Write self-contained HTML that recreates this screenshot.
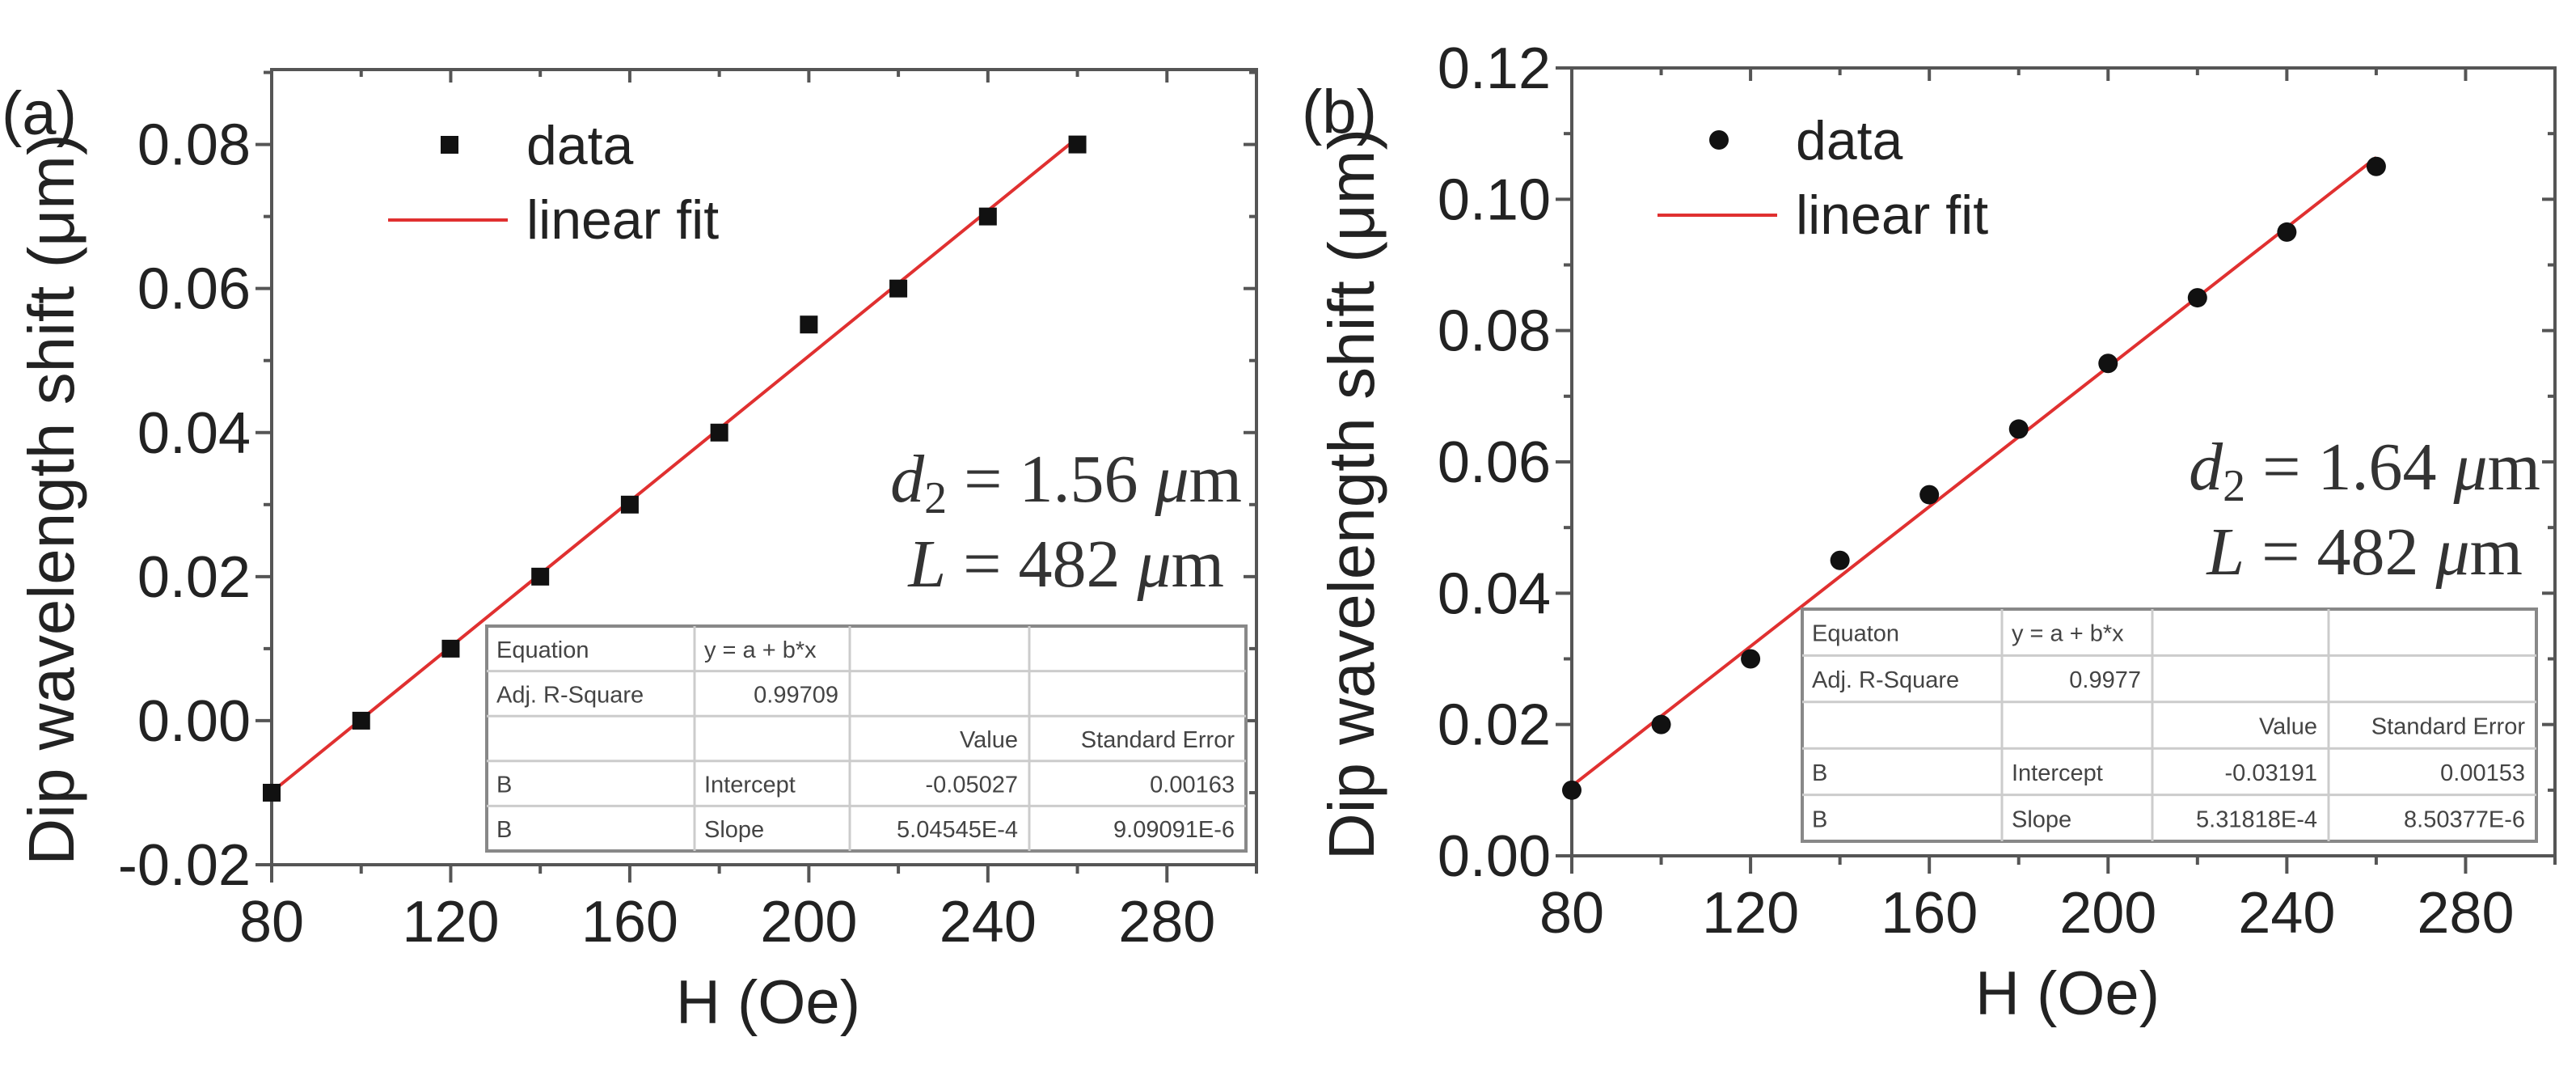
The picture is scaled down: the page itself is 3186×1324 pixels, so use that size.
<!DOCTYPE html>
<html><head><meta charset="utf-8"><style>
html,body{margin:0;padding:0;background:#fff;}
svg{display:block;}
text{font-family:"Liberation Sans",sans-serif;}
</style></head><body>
<svg id="fig" width="3186" height="1324" xmlns="http://www.w3.org/2000/svg"></svg>
<script>
// Panel (a) data
const xA = [80,100,120,140,160,180,200,220,240,260];
const yA = [-0.01,0.0,0.01,0.02,0.03,0.04,0.055,0.06,0.07,0.08];
const fitA = [-0.05027, 5.04545e-4];
const yTicksA = [-0.02,0.0,0.02,0.04,0.06,0.08];
const yTickLabelsA = ["-0.02","0.00","0.02","0.04","0.06","0.08"];
// Panel (b) data
const xB = [80,100,120,140,160,180,200,220,240,260];
const yB = [0.01,0.02,0.03,0.045,0.055,0.065,0.075,0.085,0.095,0.105];
const fitB = [-0.03191, 5.31818e-4];
const yTicksB = [0.0,0.02,0.04,0.06,0.08,0.10,0.12];
const yTickLabelsB = ["0.00","0.02","0.04","0.06","0.08","0.10","0.12"];
const xTicks = [80,120,160,200,240,280];
const xTickLabels = ["80","120","160","200","240","280"];
const tableA = [["Equation","y = a + b*x","",""],["Adj. R-Square","0.99709","",""],["","","Value","Standard Error"],["B","Intercept","-0.05027","0.00163"],["B","Slope","5.04545E-4","9.09091E-6"]];
const tableB = [["Equaton","y = a + b*x","",""],["Adj. R-Square","0.9977","",""],["","","Value","Standard Error"],["B","Intercept","-0.03191","0.00153"],["B","Slope","5.31818E-4","8.50377E-6"]];

const NS="http://www.w3.org/2000/svg";
const svg=document.getElementById('fig');
function mk(tag,attrs,parent,txt){const e=document.createElementNS(NS,tag);for(const k in attrs)e.setAttribute(k,attrs[k]);if(txt!==undefined)e.textContent=txt;(parent||svg).appendChild(e);return e;}

function panel(cfg){
  const g=mk('g',{});
  
  
  const sx=v=>cfg.L+(v-cfg.xmin)/(cfg.xmax-cfg.xmin)*(cfg.R-cfg.L);
  const sy=v=>cfg.B-(v-cfg.ymin)/(cfg.ymax-cfg.ymin)*(cfg.B-cfg.T);
  const ax='#555';
  const fr=mk('rect',{x:cfg.L,y:cfg.T,width:cfg.R-cfg.L,height:cfg.B-cfg.T,fill:'none',stroke:ax,'stroke-width':4},g);
  
  
  for(let v=cfg.xmin; v<=cfg.xmax; v+=20){
    const major=((v-80)%40===0);
    const X=sx(v);
    mk('line',{x1:X,y1:cfg.B,x2:X,y2:cfg.B+(major?22:11),stroke:ax,'stroke-width':4},g);
    mk('line',{x1:X,y1:cfg.T,x2:X,y2:cfg.T+(major?16:9),stroke:ax,'stroke-width':4},g);
  }
  xTicks.forEach((v,i)=>{
    const t=mk('text',{x:sx(v),y:cfg.B+95,'font-size':72,'text-anchor':'middle',fill:'#222'},g,xTickLabels[i]);
    
    
  });
  const step=0.01;
  for(let k=0;;k++){const v=cfg.ymin+k*step; if(v>cfg.ymax+1e-9)break;
    const major=(k%2===0); const Y=sy(v);
    mk('line',{x1:cfg.L-(major?20:10),y1:Y,x2:cfg.L,y2:Y,stroke:ax,'stroke-width':4},g);
    mk('line',{x1:cfg.R-(major?16:9),y1:Y,x2:cfg.R,y2:Y,stroke:ax,'stroke-width':4},g);
  }
  cfg.yTicks.forEach((v,i)=>{
    const t=mk('text',{x:cfg.L-26,y:sy(v)+25,'font-size':72,'text-anchor':'end',fill:'#222'},g,cfg.yLabels[i]);
    
    
  });
  const xt=mk('text',{x:(cfg.L+cfg.R)/2+5,y:cfg.B+196,'font-size':76,'text-anchor':'middle',fill:'#222'},g,'H (Oe)');
  
  
  const yt=mk('text',{x:0,y:0,'font-size':80,'text-anchor':'middle',fill:'#222',transform:`translate(${cfg.L-245},${(cfg.T+cfg.B)/2+40}) rotate(-90)`},g,'Dip wavelength shift (μm)');
  
  
  const pl=mk('text',{x:cfg.L-334,y:cfg.T+80,'font-size':76,fill:'#222'},g,cfg.label);
  
  
  const fl=mk('line',{x1:sx(80),y1:sy(cfg.fit[0]+cfg.fit[1]*80),x2:sx(260),y2:sy(cfg.fit[0]+cfg.fit[1]*260),stroke:'#e03030','stroke-width':4},g);
  
  
  cfg.xs.forEach((x,i)=>{
    let p;
    if(cfg.marker==='square') p=mk('rect',{x:sx(x)-11,y:sy(cfg.ys[i])-11,width:22,height:22,fill:'#111'},g);
    else p=mk('circle',{cx:sx(x),cy:sy(cfg.ys[i]),r:12,fill:'#111'},g);
    
    
  });
  const lg=mk('g',{},g);
  
  
  if(cfg.marker==='square') mk('rect',{x:cfg.legX-11,y:cfg.legY-11,width:22,height:22,fill:'#111'},lg);
  else mk('circle',{cx:cfg.legX,cy:cfg.legY,r:12,fill:'#111'},lg);
  mk('text',{x:cfg.legX+95,y:cfg.legY+24,'font-size':68,fill:'#222'},lg,'data');
  mk('line',{x1:cfg.legX-76,y1:cfg.legY+93,x2:cfg.legX+72,y2:cfg.legY+93,stroke:'#e03030','stroke-width':4},lg);
  mk('text',{x:cfg.legX+95,y:cfg.legY+116,'font-size':68,fill:'#222'},lg,'linear fit');
  const an=mk('g',{},g);
  
  
  const serif='font-family:"Liberation Serif",serif';
  const t1=mk('text',{x:cfg.R-18,y:cfg.annY,'font-size':84,'text-anchor':'end',fill:'#333',style:serif},an);
  mk('tspan',{'font-style':'italic'},t1,'d');
  mk('tspan',{'font-size':56,dy:14},t1,'2');
  mk('tspan',{dy:-14},t1,' = '+cfg.d2+' ');
  mk('tspan',{'font-style':'italic'},t1,'μ');
  mk('tspan',{},t1,'m');
  const t2=mk('text',{x:cfg.R-40,y:cfg.annY+105,'font-size':84,'text-anchor':'end',fill:'#333',style:serif},an);
  mk('tspan',{'font-style':'italic'},t2,'L');
  mk('tspan',{},t2,' = 482 ');
  mk('tspan',{'font-style':'italic'},t2,'μ');
  mk('tspan',{},t2,'m');
  const tb=mk('g',{},g);
  
  
  const [tl,tt,tr,tbm]=cfg.tbl; const cols=cfg.cols;
  mk('rect',{x:tl,y:tt,width:tr-tl,height:tbm-tt,fill:'#fff',stroke:'#888','stroke-width':4},tb);
  const rh=(tbm-tt)/5;
  for(let r=1;r<5;r++) mk('line',{x1:tl,y1:tt+r*rh,x2:tr,y2:tt+r*rh,stroke:'#ccc','stroke-width':3},tb);
  cols.forEach(c=>mk('line',{x1:c,y1:tt,x2:c,y2:tbm,stroke:'#ccc','stroke-width':3},tb));
  const edges=[tl,...cols,tr];
  cfg.table.forEach((row,r)=>row.forEach((s,c)=>{
    if(!s)return;
    const right=(r>=1&&(c===2||c===3))||(r===1&&c===1);
    const a=right?'end':'start';
    const X=right?edges[c+1]-14:edges[c]+12;
    mk('text',{x:X,y:tt+r*rh+rh/2+11,'font-size':29,'text-anchor':a,fill:'#444'},tb,s);
  }));
}
panel({name:'panel-a',label:'(a)',L:336,R:1554,T:86,B:1069,xmin:80,xmax:300,ymin:-0.02,ymax:0.0904,
  yTicks:yTicksA,yLabels:yTickLabelsA,xs:xA,ys:yA,fit:fitA,marker:'square',legX:556,legY:179,
  d2:'1.56',annY:620,tbl:[602,774,1541,1052],cols:[859,1051,1273],table:tableA});
panel({name:'panel-b',label:'(b)',L:1944,R:3160,T:84,B:1058,xmin:80,xmax:300,ymin:0,ymax:0.12,
  yTicks:yTicksB,yLabels:yTickLabelsB,xs:xB,ys:yB,fit:fitB,marker:'circle',legX:2126,legY:173,
  d2:'1.64',annY:605,tbl:[2229,753,3137,1040],cols:[2476,2662,2880],table:tableB});
</script>
</body></html>
